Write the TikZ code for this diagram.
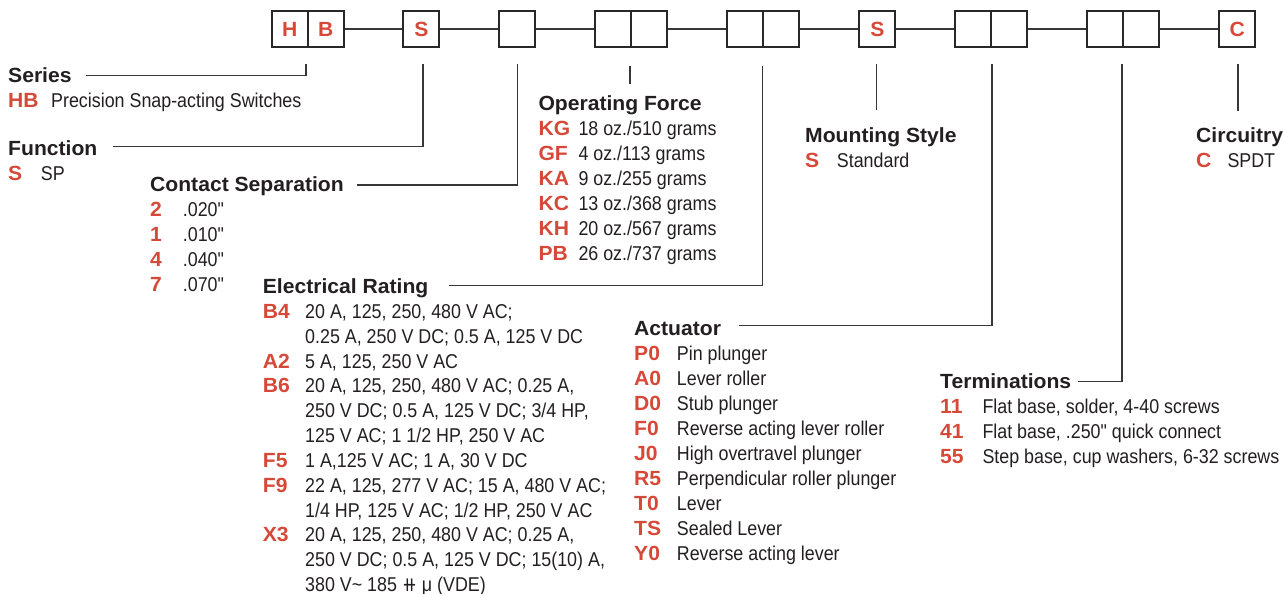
\documentclass[tikz,border=0pt]{standalone}
\usepackage{fontspec}
\setmainfont{Liberation Sans}
\newfontfamily\condfam[FakeStretch=0.893]{Liberation Sans}
\newfontfamily\hfam[FakeStretch=1.03]{Liberation Sans}
\newfontfamily\symfam[FakeStretch=0.893]{DejaVu Sans}
\newcommand\hf{\hfam\fontsize{20.5}{24}\selectfont\bfseries}
\newcommand\rf{\condfam\fontsize{20}{24}\selectfont}
\definecolor{codered}{RGB}{214,72,56}
\definecolor{txt}{RGB}{35,31,32}
\definecolor{boxc}{RGB}{40,40,40}
\definecolor{linec}{RGB}{55,55,55}
\tikzset{
  head/.style={anchor=base west, inner sep=0pt, font=\hf, text=txt},
  code/.style={anchor=base west, inner sep=0pt, font=\hf, text=codered},
  desc/.style={anchor=base west, inner sep=0pt, font=\rf, text=txt},
  pbox/.style={draw=boxc, line width=1.8pt, minimum width=36pt, minimum height=36pt,
    inner sep=0pt, font=\hf, text=codered},
  lead/.style={draw=linec, line width=1.4pt},
  conn/.style={draw=linec, line width=1.4pt},
}
\begin{document}
\begin{tikzpicture}[x=1pt,y=-1pt]
\useasboundingbox (0,0) rectangle (1283,594);
\clip (0,0) rectangle (1283,594);
% ---- code boxes
\node[pbox] (bH) at (289.7,29) {H};
\node[pbox] (bB) at (325.7,29) {B};
\node[pbox] (bS) at (421.3,29) {S};
\node[pbox] (b3) at (517.3,29) {};
\node[pbox] (b4a) at (613.3,29) {};
\node[pbox] (b4b) at (649.3,29) {};
\node[pbox] (b5a) at (745.3,29) {};
\node[pbox] (b5b) at (781.3,29) {};
\node[pbox] (bM) at (877.3,29) {S};
\node[pbox] (b6a) at (973.3,29) {};
\node[pbox] (b6b) at (1009.3,29) {};
\node[pbox] (b7a) at (1105.3,29) {};
\node[pbox] (b7b) at (1141.3,29) {};
\node[pbox] (bC) at (1237.3,29) {C};
\draw[conn] (bB.east) -- (bS.west);
\draw[conn] (bS.east) -- (b3.west);
\draw[conn] (b3.east) -- (b4a.west);
\draw[conn] (b4b.east) -- (b5a.west);
\draw[conn] (b5b.east) -- (bM.west);
\draw[conn] (bM.east) -- (b6a.west);
\draw[conn] (b6b.east) -- (b7a.west);
\draw[conn] (b7b.east) -- (bC.west);
% ---- leader coordinates
\coordinate (t1) at (306,64.5);   \coordinate (e1) at (86,75.7);
\coordinate (t2) at (423,64.5);   \coordinate (e2) at (113,146.7);
\coordinate (t3) at (517.7,64.5); \coordinate (e3) at (356.7,185);
\coordinate (t4) at (630,66);     \coordinate (e4) at (630,84);
\coordinate (t5) at (762.7,66);   \coordinate (e5) at (449.3,285.7);
\coordinate (t6) at (876.5,64.5); \coordinate (e6) at (876.5,110);
\coordinate (t7) at (992,64.5);   \coordinate (e7) at (739,325.7);
\coordinate (t8) at (1122,64.5);  \coordinate (e8) at (1077.7,381.7);
\coordinate (t9) at (1238,64.5);  \coordinate (e9) at (1238,110.5);
\draw[lead] (t1) |- (e1);
\draw[lead] (t2) |- (e2);
\draw[lead] (t3) |- (e3);
\draw[lead] (t4) -- (e4);
\draw[lead] (t5) |- (e5);
\draw[lead] (t6) -- (e6);
\draw[lead] (t7) |- (e7);
\draw[lead] (t8) |- (e8);
\draw[lead] (t9) -- (e9);
% ---- Series
\node[head] (hSer) at (8,82.7) {Series};
\node[code] (cSer) at (8,107.7) {HB};
\node[desc] (dSer) at (51,107.7) {Precision Snap-acting Switches};
% ---- Function
\node[head] (hFun) at (8,155) {Function};
\node[code] (cFun) at (8,180) {S};
\node[desc] (dFun) at (40.7,180) {SP};
% ---- Contact Separation
\node[head] (hCon) at (150,191.7) {Contact Separation};
\foreach \c/\d [count=\k from 0] in {2/{.020"},1/{.010"},4/{.040"},7/{.070"}}{
  \node[code] (cCon\k) at (150,216.7+25*\k) {\c};
  \node[desc] (dCon\k) at (182.7,216.7+25*\k) {\d};
}
% ---- Operating Force
\node[head] (hOp) at (538.3,110.7) {Operating Force};
\foreach \c/\d [count=\k from 0] in {KG/{18 oz./510 grams},GF/{4 oz./113 grams},KA/{9 oz./255 grams},KC/{13 oz./368 grams},KH/{20 oz./567 grams},PB/{26 oz./737 grams}}{
  \node[code] (cOp\k) at (538.3,135.5+25*\k) {\c};
  \node[desc] (dOp\k) at (578.3,135.5+25*\k) {\d};
}
% ---- Mounting Style
\node[head] (hMou) at (805,142.5) {Mounting Style};
\node[code] (cMou) at (805,167.5) {S};
\node[desc] (dMou) at (836.7,167.5) {Standard};
% ---- Circuitry
\node[head] (hCir) at (1196,142.8) {Circuitry};
\node[code] (cCir) at (1196,167.8) {C};
\node[desc] (dCir) at (1227.3,167.8) {SPDT};
% ---- Electrical Rating
\node[head] (hEl) at (262.7,293.3) {Electrical Rating};
\newcommand\ey[1]{318.3+24.85*#1}
\node[code] (cEl0) at (262.7,\ey{0}) {B4};
\node[desc] (dEl0) at (305,\ey{0}) {20 A, 125, 250, 480 V AC;};
\node[desc] (dEl1) at (305,\ey{1}) {0.25 A, 250 V DC; 0.5 A, 125 V DC};
\node[code] (cEl2) at (262.7,\ey{2}) {A2};
\node[desc] (dEl2) at (305,\ey{2}) {5 A, 125, 250 V AC};
\node[code] (cEl3) at (262.7,\ey{3}) {B6};
\node[desc] (dEl3) at (305,\ey{3}) {20 A, 125, 250, 480 V AC; 0.25 A,};
\node[desc] (dEl4) at (305,\ey{4}) {250 V DC; 0.5 A, 125 V DC; 3/4 HP,};
\node[desc] (dEl5) at (305,\ey{5}) {125 V AC; 1 1/2 HP, 250 V AC};
\node[code] (cEl6) at (262.7,\ey{6}) {F5};
\node[desc] (dEl6) at (305,\ey{6}) {1 A,125 V AC; 1 A, 30 V DC};
\node[code] (cEl7) at (262.7,\ey{7}) {F9};
\node[desc] (dEl7) at (305,\ey{7}) {22 A, 125, 277 V AC; 15 A, 480 V AC;};
\node[desc] (dEl8) at (305,\ey{8}) {1/4 HP, 125 V AC; 1/2 HP, 250 V AC};
\node[code] (cEl9) at (262.7,\ey{9}) {X3};
\node[desc] (dEl9) at (305,\ey{9}) {20 A, 125, 250, 480 V AC; 0.25 A,};
\node[desc] (dEl10) at (305,\ey{10}) {250 V DC; 0.5 A, 125 V DC; 15(10) A,};
\node[desc] (dEl11) at (305,\ey{11}) {380 V\textasciitilde\ 185 {\symfam ⧺} μ (VDE)};
% ---- Actuator
\node[head] (hAct) at (634,335.7) {Actuator};
\foreach \c/\d [count=\k from 0] in {P0/Pin plunger,A0/Lever roller,D0/Stub plunger,F0/Reverse acting lever roller,J0/High overtravel plunger,R5/Perpendicular roller plunger,T0/Lever,TS/Sealed Lever,Y0/Reverse acting lever}{
  \node[code] (cAct\k) at (634,360.7+25*\k) {\c};
  \node[desc] (dAct\k) at (676.7,360.7+25*\k) {\d};
}
% ---- Terminations
\node[head] (hTer) at (940,388.5) {Terminations};
\foreach \c/\d [count=\k from 0] in {11/{Flat base, solder, 4-40 screws},41/{Flat base, .250" quick connect},55/{Step base, cup washers, 6-32 screws}}{
  \node[code] (cTer\k) at (940,413.8+25*\k) {\c};
  \node[desc] (dTer\k) at (982.3,413.8+25*\k) {\d};
}
\end{tikzpicture}
\end{document}
